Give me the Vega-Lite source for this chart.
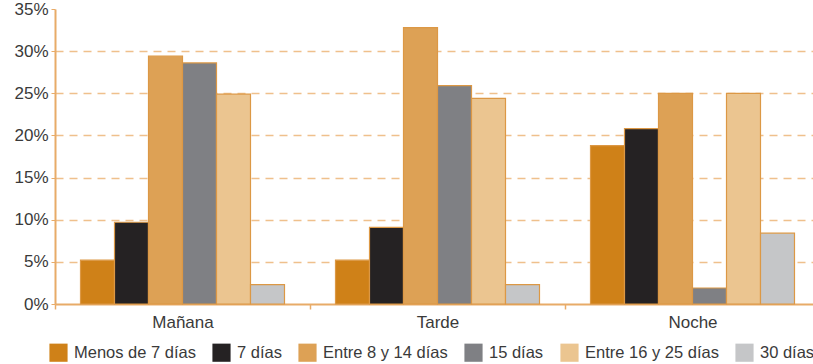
{
  "$schema": "https://vega.github.io/schema/vega-lite/v6.json",
  "width": 765,
  "height": 295,
  "autosize": {"type": "none"},
  "padding": {"left": 55, "top": 9, "right": 0, "bottom": 60},
  "background": "white",
  "config": {
    "view": {"stroke": null},
    "font": "Liberation Sans",
    "axis": {"labelColor": "#3a3a3a", "labelFont": "Liberation Sans"},
    "legend": {"labelColor": "#3a3a3a", "labelFont": "Liberation Sans"}
  },
  "data": {
    "values": [
      {"turno": "Mañana", "serie": "Menos de 7 días", "valor": 0.052},
      {"turno": "Mañana", "serie": "7 días", "valor": 0.097},
      {"turno": "Mañana", "serie": "Entre 8 y 14 días", "valor": 0.294},
      {"turno": "Mañana", "serie": "15 días", "valor": 0.286},
      {"turno": "Mañana", "serie": "Entre 16 y 25 días", "valor": 0.249},
      {"turno": "Mañana", "serie": "30 días", "valor": 0.023},
      {"turno": "Tarde", "serie": "Menos de 7 días", "valor": 0.052},
      {"turno": "Tarde", "serie": "7 días", "valor": 0.091},
      {"turno": "Tarde", "serie": "Entre 8 y 14 días", "valor": 0.328},
      {"turno": "Tarde", "serie": "15 días", "valor": 0.259},
      {"turno": "Tarde", "serie": "Entre 16 y 25 días", "valor": 0.244},
      {"turno": "Tarde", "serie": "30 días", "valor": 0.023},
      {"turno": "Noche", "serie": "Menos de 7 días", "valor": 0.188},
      {"turno": "Noche", "serie": "7 días", "valor": 0.208},
      {"turno": "Noche", "serie": "Entre 8 y 14 días", "valor": 0.25},
      {"turno": "Noche", "serie": "15 días", "valor": 0.019},
      {"turno": "Noche", "serie": "Entre 16 y 25 días", "valor": 0.25},
      {"turno": "Noche", "serie": "30 días", "valor": 0.084}
    ]
  },
  "mark": {"type": "bar", "stroke": "#dc9845", "strokeWidth": 1.2},
  "encoding": {
    "x": {
      "field": "turno",
      "type": "nominal",
      "sort": ["Mañana", "Tarde", "Noche"],
      "scale": {"paddingInner": 0, "paddingOuter": 0},
      "axis": {
        "title": null,
        "labelAngle": 0,
        "labelFontSize": 17,
        "labelPadding": 5,
        "tickBand": "extent",
        "tickSize": 5,
        "tickColor": "#e8ab68",
        "tickWidth": 1.5,
        "domainColor": "#e8ab68",
        "domainWidth": 2
      }
    },
    "xOffset": {
      "field": "serie",
      "type": "nominal",
      "sort": ["Menos de 7 días", "7 días", "Entre 8 y 14 días", "15 días", "Entre 16 y 25 días", "30 días"],
      "scale": {"paddingInner": 0, "paddingOuter": 0.75}
    },
    "y": {
      "field": "valor",
      "type": "quantitative",
      "scale": {"domain": [0, 0.35], "nice": false},
      "axis": {
        "title": null,
        "format": ".0%",
        "values": [0, 0.05, 0.1, 0.15, 0.2, 0.25, 0.3, 0.35],
        "labelFontSize": 17,
        "labelPadding": 3,
        "tickSize": 4,
        "tickColor": "#e8ab68",
        "domainColor": "#e8ab68",
        "domainWidth": 2,
        "grid": true,
        "gridColor": "#efc08c",
        "gridWidth": 1.5,
        "gridDash": [8, 6],
        "gridOpacity": {"condition": {"test": "datum.value === 0 || datum.value === 0.35", "value": 0}, "value": 1}
      }
    },
    "color": {
      "field": "serie",
      "type": "nominal",
      "sort": ["Menos de 7 días", "7 días", "Entre 8 y 14 días", "15 días", "Entre 16 y 25 días", "30 días"],
      "scale": {
        "domain": ["Menos de 7 días", "7 días", "Entre 8 y 14 días", "15 días", "Entre 16 y 25 días", "30 días"],
        "range": ["#cf8118", "#252223", "#dda155", "#7f8084", "#ebc590", "#c5c6c8"]
      },
      "legend": {
        "title": null,
        "orient": "none",
        "legendX": -6,
        "legendY": 334,
        "direction": "horizontal",
        "columns": 6,
        "symbolType": "square",
        "symbolSize": 330,
        "symbolStrokeWidth": 0,
        "labelFontSize": 16.5,
        "labelOffset": 6,
        "columnPadding": 16
      }
    }
  }
}
